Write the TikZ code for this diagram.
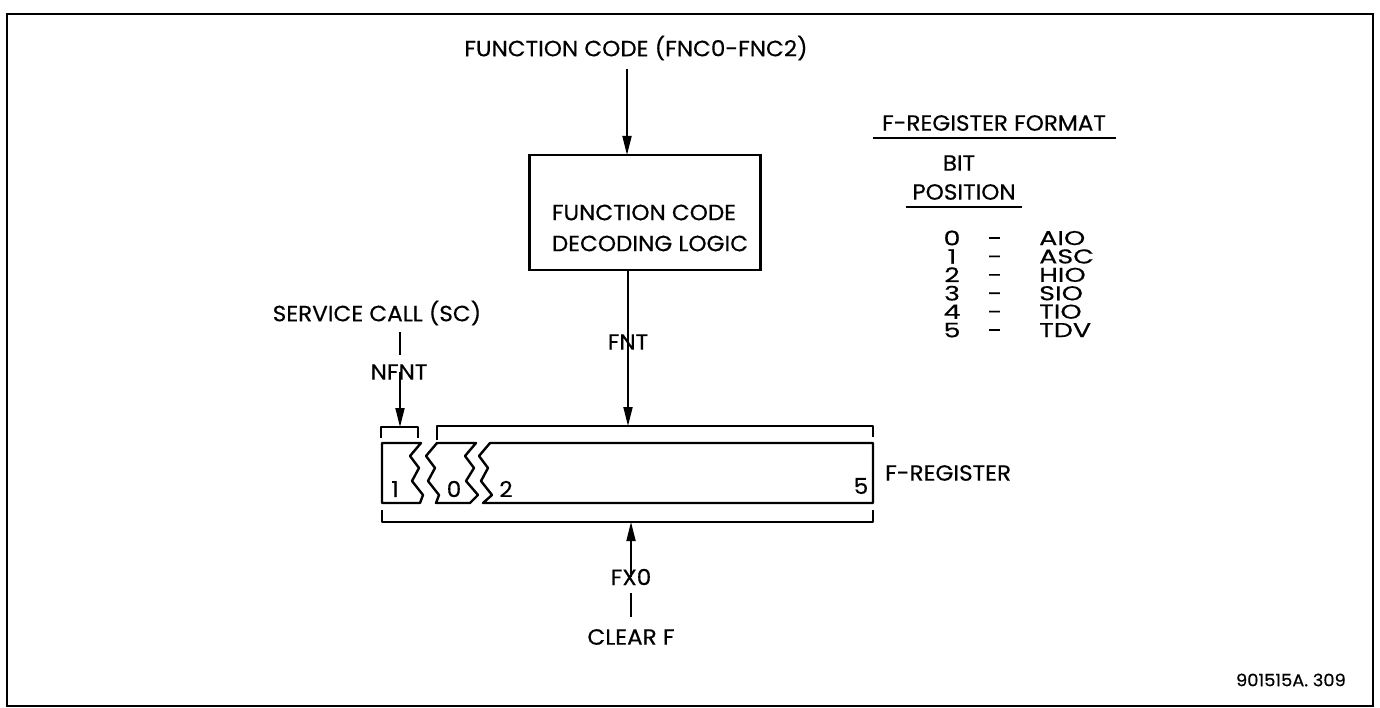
\documentclass[tikz,border=0pt]{standalone}
\usepackage{fontspec}
\setmainfont[FakeStretch=1.05,FakeBold=0.4]{Poppins}
\newfontfamily\widefont[FakeStretch=1.35,FakeBold=0.4]{Poppins}
\usetikzlibrary{arrows.meta}
\tikzset{
  lbl/.style={inner sep=0pt, font=\fontsize{22}{18.4}\selectfont},
  tbl/.style={inner sep=0pt, font=\widefont\fontsize{20}{18.4}\selectfont},
  small/.style={inner sep=0pt, font=\fontsize{17}{20}\selectfont},
  conn/.style={line width=1.8pt, -{Triangle[length=19pt,width=9pt]}},
  plain/.style={line width=1.8pt},
  reg/.style={line width=2.4pt, line join=round},
  frame/.style={line width=2.8pt},
  box/.style={draw, line width=2.2pt, minimum width=231pt, minimum height=115pt, inner sep=0pt}
}
\begin{document}
\begin{tikzpicture}[x=1pt,y=-1pt]
\useasboundingbox (0,0) rectangle (1380,708);
\draw[frame] (7,14) rectangle (1373,706);

% top input and decoding box
\node[lbl] (fnc) at (636,48) {FUNCTION CODE (FNC0-FNC2)};
\node[box] (dec) at (645,212.5) {};
\node[lbl, align=left, font=\fontsize{22}{31}\selectfont] (dect) at (650,228) {FUNCTION CODE\\DECODING LOGIC};
\coordinate (decin) at (627,155);
\draw[conn] (fnc.south -| decin) ++(0,8) -- (decin);

% FNT
\node[lbl] (fnt) at (628,342) {FNT};
\coordinate (decout) at (628,270);
\coordinate (fbr) at (628,426);
\draw[plain] (decout) -- ([yshift=-8pt]fnt.north);
\draw[conn] ([yshift=8pt]fnt.south) -- (fbr);

% service call
\node[lbl] (sc) at (377,313) {SERVICE CALL (SC)};
\node[lbl] (nfnt) at (399,372) {NFNT};
\coordinate (nbr) at (400,427);
\draw[plain] (400,332) -- (400,355);
\draw[conn] ([yshift=8pt]nfnt.south -| nbr) -- (nbr);

% brackets
\draw[reg] (381,438) -- (381,427) -- (418,427) -- (418,438);
\draw[reg] (437,440) -- (437,426) -- (873,426) -- (873,437);
\draw[reg] (382,510) -- (382,522) -- (873,522) -- (873,510);

% register segments
\draw[reg] (382,443) -- (421,443) -- (410,456) -- (419,468) -- (412,481) -- (423,495) -- (420,503) -- (382,503) -- cycle;
\draw[reg] (437,443) -- (476,443) -- (465,456) -- (474,468) -- (466,481) -- (478,495) -- (470,503)
   -- (436,503) -- (439,495) -- (428,481) -- (435,468) -- (426,456) -- cycle;
\draw[reg] (490,443) -- (873,443) -- (873,503) -- (483,503) -- (492,495) -- (481,481) -- (488,468) -- (479,456) -- cycle;
\node[lbl] (b1) at (395,489) {1};
\node[lbl] (b0) at (454,489) {0};
\node[lbl] (b2) at (506,489) {2};
\node[lbl] (b5) at (861,486) {5};
\node[lbl, anchor=west] (freg) at (885,473) {F-REGISTER};

% clear
\coordinate (cbr) at (631,522);
\node[lbl] (fx0) at (631,577) {FX0};
\node[lbl] (clr) at (631,637) {CLEAR F};
\draw[conn] ([yshift=-8pt]fx0.north -| cbr) -- (cbr);
\draw[plain] (631,593) -- (631,617);

% format table
\node[lbl] (fmt) at (994,123) {F-REGISTER FORMAT};
\draw[line width=1.4pt] (873,138) -- (1116,138);
\node[lbl] (bit) at (959,163) {BIT};
\node[lbl] (pos) at (964,192) {POSITION};
\draw[line width=1.4pt] (906,207) -- (1022,207);
\node[tbl, align=center] (digits) at (952,284) {0\\1\\2\\3\\4\\5};
\node[tbl, align=center] (dashes) at (995,284) {\vphantom{0}-\\\vphantom{0}-\\\vphantom{0}-\\\vphantom{0}-\\\vphantom{0}-\\\vphantom{0}-};
\node[tbl, align=left, anchor=west] (names) at (1039,284) {AIO\\ASC\\HIO\\SIO\\TIO\\TDV};
\node[small, anchor=east] (id) at (1346,680) {901515A. 309};
\end{tikzpicture}
\end{document}
